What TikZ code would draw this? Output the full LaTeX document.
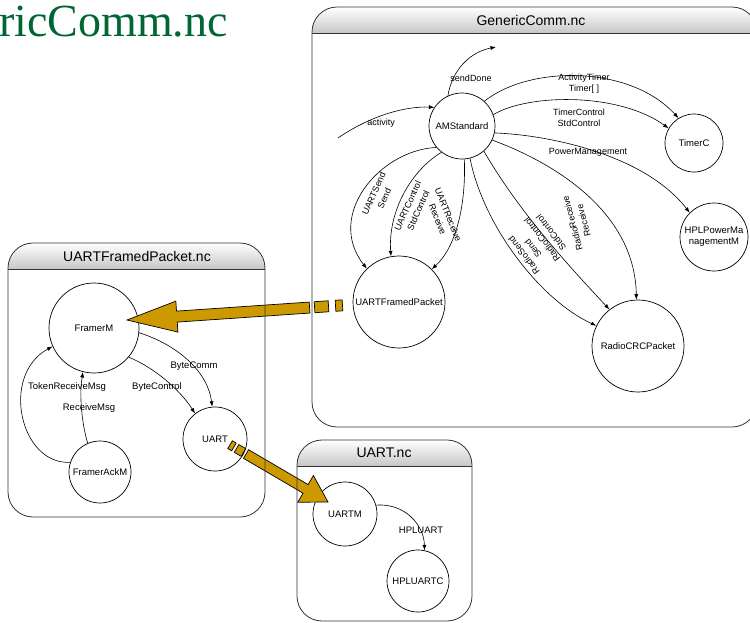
\documentclass[tikz,border=0pt]{standalone}
\usepackage{fontspec}
\setmainfont{Liberation Sans}
\newfontfamily\serifttl{Liberation Serif}
\usetikzlibrary{arrows.meta}
\definecolor{arrowgold}{RGB}{204,153,0}
\definecolor{ttlgreen}{RGB}{0,102,51}
\begin{document}
\begin{tikzpicture}[x=1pt,y=-1pt,
  comp/.style={circle, draw=black, line width=0.7pt, inner sep=0pt, minimum size=#1, font=\fontsize{9.5}{11}\selectfont, align=center},
  wire/.style={line width=0.6pt, -{Latex[length=5.5pt,width=4pt]}},
  lbl/.style={inner sep=0pt, align=center, font=\fontsize{9}{11.5}\selectfont},
  lbll/.style={inner sep=0pt, align=center, font=\fontsize{9.5}{11.5}\selectfont},
  boxline/.style={line width=0.8pt, draw=black!80},
  hdr/.style={top color=white, bottom color=black!22},
  boxttl/.style={inner sep=0pt, font=\fontsize{14}{16}\selectfont},
  goldarrow/.style={fill=arrowgold, draw=black, line width=0.7pt, line join=miter}]
\useasboundingbox (0,0) rectangle (750,622);
\clip (0,0) rectangle (750,622);

% green title (cut at the left edge)
\node[anchor=base west, inner sep=0pt, text=ttlgreen, font=\serifttl\fontsize{46}{46}\selectfont] (maintitle) at (-1,36) {ricComm.nc};

% header shadings
\begin{scope}
  \clip[rounded corners=25pt] (312,7) rectangle (757,427);
  \shade[hdr] (312,7) rectangle (757,33);
\end{scope}
\begin{scope}
  \clip[rounded corners=25pt] (8,243) rectangle (265,517);
  \shade[hdr] (8,243) rectangle (265,269);
\end{scope}
\begin{scope}
  \clip[rounded corners=25pt] (297,440) rectangle (472,621);
  \shade[hdr] (297,440) rectangle (472,466);
\end{scope}

% ---------- GenericComm.nc ----------
\node[comp=66pt] (am) at (462,126) {AMStandard};
\node[comp=58pt] (timerc) at (694,143) {TimerC};
\node[comp=68pt] (hpl) at (714,237) {HPLPowerMa\\nagementM};
\node[comp=92pt] (ufp) at (399,302) {UARTFramedPacket};
\node[comp=92pt] (rcrc) at (638,346) {RadioCRCPacket};

\coordinate (actsrc) at (338,138);
\coordinate (sdend) at (496,47);
\draw[wire] (actsrc) .. controls (370,116) and (405,106) .. (am.146);
\draw[wire] (am.115) .. controls (452,70) and (470,52) .. (sdend);
\draw[wire] (am.48) .. controls (530,65) and (630,65) .. (timerc.122);
\draw[wire] (am.20) .. controls (530,93) and (620,93) .. (timerc.150);
\draw[wire] (am.-12) .. controls (550,135) and (645,155) .. (hpl.135);
\draw[wire] (am.220) .. controls (380,150) and (325,215) .. (ufp.134);
\draw[wire] (am.232) .. controls (412,170) and (388,210) .. (ufp.100);
\draw[wire] (am.-86) .. controls (466,200) and (458,245) .. (ufp.45);
\draw[wire] (am.-76) .. controls (483,225) and (540,300) .. (rcrc.154);
\draw[wire] (am.-49) .. controls (518,210) and (565,262) .. (rcrc.128);
\draw[wire] (am.-25) .. controls (560,165) and (635,215) .. (rcrc.92);

\node[lbl] (lsd) at (471,78) {sendDone};
\node[lbl] (lact) at (381,123) {activity};
\node[lbl] (lat) at (584,83.5) {ActivityTimer\\Timer[ ]};
\node[lbl] (ltc) at (579,118) {TimerControl\\StdControl};
\node[lbl] (lpm) at (588,152) {PowerManagement};
\node[lbl, rotate=66] (lus) at (379,196) {UARTSend\\Send};
\node[lbl, rotate=66] (luc) at (413,208) {UARTControl\\StdControl};
\node[lbl, rotate=-68] (lur) at (443,217) {UARTReceive\\Receive};
\node[lbl, rotate=128] (lrs) at (528.5,252) {RadioSend\\Send};
\node[lbl, rotate=128] (lrc) at (546.5,236) {RadioControl\\StdControl};
\node[lbl, rotate=105] (lrr) at (578,222) {RadioReceive\\Receive};

% ---------- UARTFramedPacket.nc ----------
\node[comp=90pt] (framerm) at (94,328) {FramerM};
\node[comp=64pt] (uart) at (215,439) {UART};
\node[comp=62pt] (ackm) at (100,472) {FramerAckM};

\draw[wire] (framerm.-6) .. controls (178,345) and (208,372) .. (uart.95);
\draw[wire] (framerm.-40) .. controls (155,368) and (180,390) .. (uart.128);
\draw[wire] (ackm.162) .. controls (20,465) and (0,375) .. (framerm.204);
\draw[wire] (ackm.113) .. controls (82,425) and (79,395) .. (framerm.256);

\node[lbll] (lbc) at (194,366) {ByteComm};
\node[lbll] (lbctl) at (157,387) {ByteControl};
\node[lbll] (ltrm) at (67,387) {TokenReceiveMsg};
\node[lbll] (lrm) at (89,408) {ReceiveMsg};

% ---------- UART.nc ----------
\node[comp=64pt] (uartm) at (345,514) {UARTM};
\node[comp=62pt] (hpluartc) at (418,581) {HPLUARTC};
\draw[wire] (uartm.16) .. controls (405,503) and (424,525) .. (hpluartc.78);
\node[lbll] (lhu) at (421,530) {HPLUART};

% ---------- gold arrows ----------
\begin{scope}[shift={(127,320)}, rotate=3.9]
  \filldraw[goldarrow] (0,0) -- (50,-15.5) -- (50,-5.5) -- (183,-5.5) -- (183,5.5) -- (50,5.5) -- (50,15.5) -- cycle;
  \filldraw[goldarrow] (188,-5.5) rectangle (202,5.5);
  \filldraw[goldarrow] (209,-5.5) rectangle (216,5.5);
\end{scope}
\begin{scope}[shift={(328,502)}, rotate=149.65]
  \filldraw[goldarrow] (0,0) -- (26,-15.5) -- (26,-5) -- (95,-5) -- (95,5) -- (26,5) -- (26,15.5) -- cycle;
  \filldraw[goldarrow] (98,-4.5) rectangle (106,4.5);
  \filldraw[goldarrow] (109,-4.5) rectangle (113.5,4.5);
\end{scope}

% ---------- box outlines and titles ----------
\draw[boxline, rounded corners=25pt] (312,7) rectangle (757,427);
\draw[boxline] (312,33) -- (757,33);
\node[boxttl] (gcttl) at (531,20) {GenericComm.nc};

\draw[boxline, rounded corners=25pt] (8,243) rectangle (265,517);
\draw[boxline] (8,269) -- (265,269);
\node[boxttl] (ufpttl) at (137,256) {UARTFramedPacket.nc};

\draw[boxline, rounded corners=25pt] (297,440) rectangle (472,621);
\draw[boxline] (297,466) -- (472,466);
\node[boxttl] (uartttl) at (384,453) {UART.nc};
\end{tikzpicture}
\end{document}
